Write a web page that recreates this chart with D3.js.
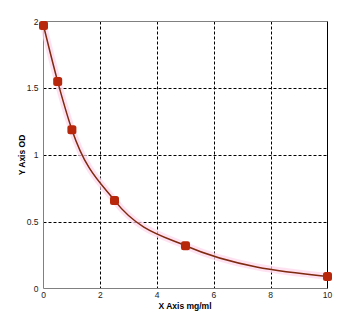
<!DOCTYPE html>
<html>
<head>
<meta charset="utf-8">
<script src="https://cdn.jsdelivr.net/npm/d3@7"></script>
<style>
  body { margin: 0; background: #fff; }
  text { font-family: Arial, "Liberation Sans", sans-serif; }
</style>
</head>
<body>
<svg id="chart" width="349" height="316"></svg>
<script>
// standard curve points
const concentration = [0, 0.5, 1, 2.5, 5, 10]
const od = [1.97, 1.55, 1.19, 0.66, 0.32, 0.09]

const xTicks = [0, 2, 4, 6, 8, 10]
const yTicks = [0, 0.5, 1, 1.5, 2]

var svg = d3.select("#chart")

let x = d3.scaleLinear().domain([0, 10]).range([43.5, 327.5])
let y = d3.scaleLinear().domain([0, 2]).range([288.5, 21.5])

// dashed grid
svg.append("g").selectAll("line")
    .data(xTicks.slice(1, -1))
    .enter().append("line")
    .attr("x1", d => Math.round(x(d)) + 0.5).attr("x2", d => Math.round(x(d)) + 0.5)
    .attr("y1", y(2)).attr("y2", y(0))
    .attr("stroke", "#000").attr("stroke-dasharray", "3,2")

svg.append("g").selectAll("line")
    .data(yTicks.slice(1, -1))
    .enter().append("line")
    .attr("y1", d => Math.round(y(d)) + 0.5).attr("y2", d => Math.round(y(d)) + 0.5)
    .attr("x1", x(0)).attr("x2", x(10))
    .attr("stroke", "#000").attr("stroke-dasharray", "3,2")

// frame: grey left/top/bottom, black right
svg.append("line").attr("x1", x(0)).attr("x2", x(10)).attr("y1", y(2)).attr("y2", y(2)).attr("stroke", "#808080")
svg.append("line").attr("x1", x(0)).attr("x2", x(10)).attr("y1", y(0)).attr("y2", y(0)).attr("stroke", "#808080")
svg.append("line").attr("x1", x(0)).attr("x2", x(0)).attr("y1", y(2)).attr("y2", y(0)).attr("stroke", "#808080")
svg.append("line").attr("x1", x(10)).attr("x2", x(10)).attr("y1", y(2)).attr("y2", y(0)).attr("stroke", "#000")

// tick labels
svg.append("g").selectAll("text")
    .data(yTicks)
    .enter().append("text")
    .attr("x", x(0) - 5).attr("y", d => y(d) + 3)
    .attr("text-anchor", "end").attr("font-size", 8.5).attr("fill", "#222")
    .text(d => d)

svg.append("g").selectAll("text")
    .data(xTicks)
    .enter().append("text")
    .attr("x", d => x(d)).attr("y", y(0) + 9.5)
    .attr("text-anchor", "middle").attr("font-size", 8.5).attr("fill", "#222")
    .text(d => d)

// axis titles
svg.append("text")
    .attr("x", 185).attr("y", 309)
    .attr("text-anchor", "middle").attr("font-size", 8.5).attr("font-weight", "bold")
    .text("X Axis mg/ml")

svg.append("text")
    .attr("transform", "translate(25,155) rotate(-90)")
    .attr("text-anchor", "middle").attr("font-size", 8.5).attr("font-weight", "bold")
    .text("Y Axis OD")

// fitted curve
let pts = concentration.map((c, i) => [c, od[i]])
let line = d3.line()
    .x(d => x(d[0])).y(d => y(d[1]))
    .curve(d3.curveMonotoneX)

svg.append("path")
    .attr("d", line(pts))
    .attr("fill", "none").attr("stroke", "#ffd6ec").attr("stroke-width", 7).attr("opacity", 0.7)

svg.append("path")
    .attr("d", line(pts))
    .attr("fill", "none").attr("stroke", "#7e2a0e").attr("stroke-width", 1.5)

// markers
svg.append("g").selectAll("rect")
    .data(pts)
    .enter().append("rect")
    .attr("x", d => x(d[0]) - 4.5).attr("y", d => y(d[1]) - 4.5)
    .attr("width", 9).attr("height", 9).attr("rx", 2.5)
    .attr("fill", "#b8260c")
</script>
</body>
</html>
